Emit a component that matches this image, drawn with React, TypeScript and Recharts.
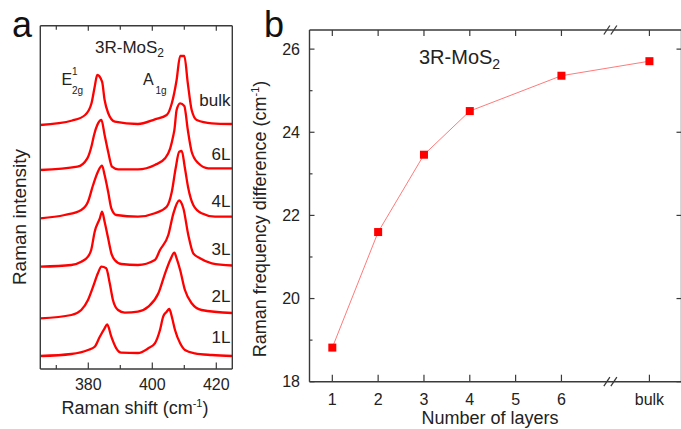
import React from 'react';
import { LineChart, Line, XAxis, YAxis, ReferenceDot } from 'recharts';

// ---------- Panel a: Raman spectra, [Raman shift (cm^-1), intensity (a.u., stacked offset)] ----------
const spectrumBulk: [number, number][] = [
  [365, 244], [375, 248.5], [379, 254], [381, 265.7], [382, 282.3], [382.8, 294], [384.3, 287.3],
  [385.1, 269], [386.2, 256], [388.3, 247.3], [395.5, 245], [400.8, 249.7], [404.5, 254],
  [406.1, 265.7], [407.6, 289], [408.7, 313], [410, 313], [411.1, 285.7], [412.3, 259],
  [413.9, 249], [418.6, 245.7], [425, 245],
];
const spectrum6L: [number, number][] = [
  [365, 199], [376.6, 202.3], [379.7, 210.7], [381.1, 224], [381.8, 234], [382.8, 244], [384.1, 249],
  [385.1, 234], [386.2, 217.3], [387.4, 202.3], [389.3, 199.7], [395.5, 199.7], [400.8, 204],
  [404, 210.7], [405.6, 220.7], [406.6, 234], [406.9, 239], [407.6, 259], [408.7, 265.7], [410, 263],
  [411.1, 239], [412.3, 217.3], [414.4, 205.7], [417.5, 200.7], [425, 200.7],
];
const spectrum4L: [number, number][] = [
  [365, 150.7], [372.6, 154], [377.8, 159], [379.9, 167.3], [381.5, 184], [383, 197.3], [384.3, 203.3],
  [385.1, 194], [386.2, 177.3], [387.2, 160.7], [388.75, 154], [395.5, 152.3], [400.8, 155.7],
  [404.5, 162.3], [406.1, 177.3], [407.3, 200.7], [408.4, 217.3], [409.2, 218], [410.2, 200.7],
  [411.25, 180.7], [412.8, 164], [415.4, 155.7], [419.6, 152.3], [425, 152.3],
];
const spectrum3L: [number, number][] = [
  [365, 102.3], [374.7, 104], [377.8, 107.3], [379.9, 112.3], [380.9, 119], [382, 137.3], [383.6, 150.7],
  [384.3, 157.3], [385.1, 147.3], [386.2, 130.7], [387.2, 115.7], [388.25, 109], [390.3, 105],
  [395.5, 104], [400.8, 109], [402.4, 119], [405, 134], [406.6, 155.7], [408.4, 168.5], [409.7, 160.7],
  [411.25, 134], [412.8, 115.7], [414.9, 110.7], [418.6, 105.7], [425, 103.5],
];
const spectrum2L: [number, number][] = [
  [365, 50.7], [374.7, 54], [377.8, 59], [379.9, 69], [381.5, 82.3], [383, 95.7], [384.1, 102.3],
  [385.6, 100.7], [386.7, 85.7], [387.7, 69], [389.3, 59], [391.4, 56.3], [395.5, 57.3], [398.75, 62.3],
  [401.9, 75.7], [404, 95.7], [405.6, 109], [406.9, 116.3], [407.6, 110.7], [408.7, 99], [410.2, 79],
  [412.3, 65.7], [415.4, 59], [425, 56],
];
const spectrum1L: [number, number][] = [
  [365, 13], [374.7, 15], [379.9, 19], [382, 22.3], [383.6, 32.3], [385.1, 40.7], [385.9, 44.5],
  [387.2, 32.3], [388.75, 20.7], [390.3, 16.3], [395.5, 16], [398.75, 20.7], [400.8, 25.7], [402.4, 39],
  [403.4, 52.3], [404.5, 57.3], [405.3, 60], [406.1, 52.3], [407.1, 39], [408.7, 25.7], [410.2, 19],
  [413.3, 15.7], [418.6, 14], [425, 13],
];
const spectra = [spectrum1L, spectrum2L, spectrum3L, spectrum4L, spectrum6L, spectrumBulk];
const spectrumLabels = ['1L', '2L', '3L', '4L', '6L', 'bulk'];
const shiftDomain: [number, number] = [365, 425];
const intensityDomain: [number, number] = [0, 343.3];
const shiftTicks = [370, 380, 390, 400, 410, 420];
const shiftMajor = [380, 400, 420];
const shiftTickLabels = ['', '380', '', '400', '', '420'];

// ---------- Panel b: frequency difference vs number of layers ----------
const layerCategories = ['1', '2', '3', '4', '6', 'bulk'];
const layerPositions = [1, 2, 3, 4, 6, 7.92];
const freqDifference = [18.82, 21.6, 23.46, 24.51, 25.36, 25.71];
const layerTicks = [1, 2, 3, 4, 5, 6, 7.92];
const layerTickLabels = ['1', '2', '3', '4', '5', '6', 'bulk'];
const layerDomain: [number, number] = [0.502, 8.62];
const diffDomain: [number, number] = [18, 26.46];
const diffTicks = [18, 19, 20, 21, 22, 23, 24, 25, 26];
const diffMajor = [18, 20, 22, 24, 26];
const diffTickLabels = ['18', '', '20', '', '22', '', '24', '', '26'];
const breakPosition = 7.1;

const FONT = '"Liberation Sans", Arial, Helvetica, sans-serif';
const AXIS = '#3a3a3a';
const TEXT = '#222';

type Side = 'bottom' | 'top' | 'left' | 'right';
function makeTick(side: Side, ticks: number[], majors: number[], labels: string[] | null,
  majorLen: number, minorLen: number, labelOffset: number, fontSize: number) {
  return (props: any) => {
    const { x, y, payload } = props;
    const v = payload.value;
    const idx = ticks.indexOf(v);
    const isMajor = majors.includes(v);
    const len = isMajor ? majorLen : minorLen;
    const lbl = labels && idx >= 0 ? labels[idx] : '';
    let x2 = x, y2 = y;
    if (side === 'bottom') y2 = y - len;
    if (side === 'top') y2 = y + len;
    if (side === 'left') x2 = x + len;
    if (side === 'right') x2 = x - len;
    let text = null;
    if (lbl) {
      if (side === 'bottom') {
        text = <text x={x} y={y + labelOffset} textAnchor="middle" fontSize={fontSize} fontFamily={FONT} fill={TEXT}>{lbl}</text>;
      } else if (side === 'left') {
        text = <text x={x - labelOffset} y={y + fontSize * 0.36} textAnchor="end" fontSize={fontSize} fontFamily={FONT} fill={TEXT}>{lbl}</text>;
      }
    }
    return (
      <g>
        <line x1={x} y1={y} x2={x2} y2={y2} stroke={AXIS} strokeWidth={1.2} />
        {text}
      </g>
    );
  };
}

const toPoints = (s: [number, number][]) => s.map(([v, i]) => ({ v, i }));
const layerData = layerCategories.map((c, k) => ({ cat: c, x: layerPositions[k], d: freqDifference[k] }));

const BreakMark = (p: any) => {
  const { cx, cy } = p;
  return (
    <g stroke={AXIS} strokeWidth={1.3}>
      <line x1={cx - 8} y1={cy + 4.5} x2={cx - 2} y2={cy - 4.5} />
      <line x1={cx - 1} y1={cy + 4.5} x2={cx + 5} y2={cy - 4.5} />
    </g>
  );
};

const SquareDot = (p: any) => {
  const { cx, cy, index } = p;
  return <rect key={index} x={cx - 4} y={cy - 4} width={8} height={8} fill="#ff0000" />;
};

export default function App() {
  const axisLine = { stroke: AXIS, strokeWidth: 1.4 };
  return (
    <div style={{ position: 'absolute', left: 0, top: 0, width: 681, height: 429, overflow: 'hidden', background: '#fff' }}>
      {/* Panel a */}
      <div style={{ position: 'absolute', left: 0, top: 0 }}>
        <LineChart width={240} height={429} margin={{ top: 24.7, left: 39.3, right: 6.7, bottom: 59 }}>
          <XAxis xAxisId="b" type="number" dataKey="v" domain={shiftDomain} allowDataOverflow ticks={shiftTicks}
            interval={0} orientation="bottom" height={1} tickSize={0} tickMargin={0} tickLine={false} axisLine={axisLine}
            tick={makeTick('bottom', shiftTicks, shiftMajor, shiftTickLabels, 6.5, 4, 20.5, 16)} />
          <XAxis xAxisId="t" type="number" dataKey="v" domain={shiftDomain} allowDataOverflow ticks={shiftTicks}
            interval={0} orientation="top" height={1} tickSize={0} tickMargin={0} tickLine={false} axisLine={axisLine}
            tick={makeTick('top', shiftTicks, shiftMajor, null, 5, 4, 0, 16)} />
          <YAxis yAxisId="l" type="number" domain={intensityDomain} allowDataOverflow width={1} tick={false} tickLine={false} axisLine={axisLine} />
          <YAxis yAxisId="r" orientation="right" type="number" domain={intensityDomain} allowDataOverflow width={1} tick={false} tickLine={false} axisLine={axisLine} />
          {spectra.map((s, k) => (
            <Line key={spectrumLabels[k]} name={spectrumLabels[k]} data={toPoints(s)} dataKey="i" xAxisId="b" yAxisId="l"
              type="monotone" stroke="#ff0000" strokeWidth={2.3} dot={false} isAnimationActive={false} />
          ))}
        </LineChart>
      </div>

      {/* Panel b */}
      <div style={{ position: 'absolute', left: 240, top: 0 }}>
        <LineChart width={445} height={429} data={layerData} margin={{ top: 29, left: 68.5, right: 2.5, bottom: 46.3 }}>
          <XAxis xAxisId="b" type="number" dataKey="x" domain={layerDomain} allowDataOverflow ticks={layerTicks}
            interval={0} orientation="bottom" height={1} tickSize={0} tickMargin={0} tickLine={false} axisLine={axisLine}
            tick={makeTick('bottom', layerTicks, layerTicks, layerTickLabels, 7, 7, 23.5, 16)} />
          <XAxis xAxisId="t" type="number" dataKey="x" domain={layerDomain} allowDataOverflow ticks={layerTicks}
            interval={0} orientation="top" height={1} tickSize={0} tickMargin={0} tickLine={false} axisLine={axisLine}
            tick={makeTick('top', layerTicks, layerTicks, null, 6, 6, 0, 16)} />
          <YAxis yAxisId="l" type="number" domain={diffDomain} allowDataOverflow ticks={diffTicks} interval={0}
            width={1} tickSize={0} tickMargin={0} tickLine={false} axisLine={axisLine}
            tick={makeTick('left', diffTicks, diffMajor, diffTickLabels, 5, 3, 9.5, 16)} />
          <YAxis yAxisId="r" orientation="right" type="number" domain={diffDomain} allowDataOverflow ticks={diffMajor} interval={0}
            width={1} tickSize={0} tickMargin={0} tickLine={false} axisLine={axisLine}
            tick={makeTick('right', diffMajor, diffMajor, null, 5, 5, 0, 16)} />
          <Line xAxisId="b" yAxisId="l" dataKey="d" type="linear" stroke="#ff7a7a" strokeWidth={1}
            dot={SquareDot} activeDot={false} isAnimationActive={false} />
          <ReferenceDot xAxisId="b" yAxisId="l" x={breakPosition} y={diffDomain[0]} r={0} ifOverflow="visible" shape={BreakMark} />
          <ReferenceDot xAxisId="b" yAxisId="l" x={breakPosition} y={diffDomain[1]} r={0} ifOverflow="visible" shape={BreakMark} />
        </LineChart>
      </div>

      {/* Annotation texts */}
      <svg width={681} height={429} style={{ position: 'absolute', left: 0, top: 0, pointerEvents: 'none' }} fontFamily={FONT}>
        <text x={12} y={37} fontSize={36} fill="#111">a</text>
        <text x={264} y={37} fontSize={36} fill="#111">b</text>

        {/* panel a */}
        <text x={95} y={53} fontSize={17} fill={TEXT}>3R-MoS<tspan fontSize={12} dy={4}>2</tspan></text>
        <text x={61.5} y={85} fontSize={16} fill={TEXT}>E</text>
        <text x={72} y={75} fontSize={10} fill={TEXT}>1</text>
        <text x={72} y={94} fontSize={10} fill={TEXT}>2g</text>
        <text x={143} y={85} fontSize={16} fill={TEXT}>A</text>
        <text x={155.5} y={94} fontSize={10} fill={TEXT}>1g</text>
        <text x={230.5} y={106} fontSize={17} textAnchor="end" fill={TEXT}>bulk</text>
        <text x={230.5} y={160} fontSize={17} textAnchor="end" fill={TEXT}>6L</text>
        <text x={230.5} y={206.7} fontSize={17} textAnchor="end" fill={TEXT}>4L</text>
        <text x={230.5} y={255} fontSize={17} textAnchor="end" fill={TEXT}>3L</text>
        <text x={230.5} y={301.7} fontSize={17} textAnchor="end" fill={TEXT}>2L</text>
        <text x={230.5} y={343.3} fontSize={17} textAnchor="end" fill={TEXT}>1L</text>
        <text transform="translate(26,217) rotate(-90)" textAnchor="middle" fontSize={19} fill={TEXT}>Raman intensity</text>
        <text x={135} y={413.5} textAnchor="middle" fontSize={18} fill={TEXT}>
          Raman shift (cm<tspan fontSize={11} dy={-7}>-1</tspan><tspan dy={7}>)</tspan>
        </text>

        {/* panel b */}
        <text x={419} y={64} fontSize={20} fill={TEXT}>3R-MoS<tspan fontSize={14} dy={5}>2</tspan></text>
        <text transform="translate(266,219) rotate(-90)" textAnchor="middle" fontSize={18} fill={TEXT}>
          Raman frequency difference (cm<tspan fontSize={11} dy={-7}>-1</tspan><tspan dy={7}>)</tspan>
        </text>
        <text x={490} y={424} textAnchor="middle" fontSize={18} fill={TEXT}>Number of layers</text>
      </svg>
    </div>
  );
}
